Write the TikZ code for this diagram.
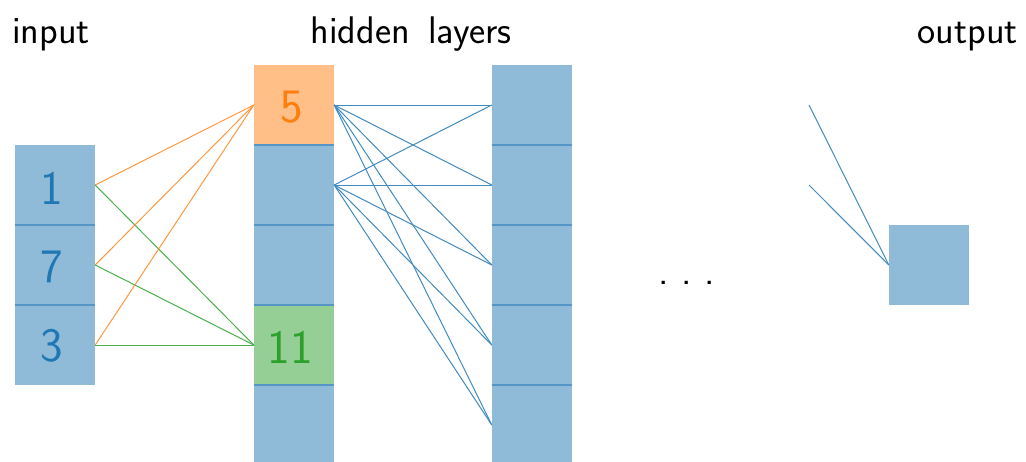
\documentclass[tikz,border=0pt]{standalone}
\usepackage{fontspec}
\definecolor{tblue}{HTML}{1F77B4}
\definecolor{torange}{HTML}{FF7F0E}
\definecolor{tgreen}{HTML}{2CA02C}
\definecolor{cellblue}{HTML}{8FBBD9}
\definecolor{cellorange}{HTML}{FFBF86}
\definecolor{cellgreen}{HTML}{95CF95}
\definecolor{sepblue}{HTML}{5596C6}
\begin{document}
\begin{tikzpicture}[x=1pt,y=-1pt,
  cell/.style={rectangle,minimum width=80pt,minimum height=80pt,inner sep=0pt,fill=cellblue},
  ocell/.style={cell,fill=cellorange},
  gcell/.style={cell,fill=cellgreen},
  num/.style={font=\sffamily\fontsize{48}{50}\selectfont,inner sep=0pt},
  sep/.style={draw=sepblue,line width=1.6pt},
  lbl/.style={font=\sffamily\fontsize{38.5}{40}\selectfont,inner sep=0pt,anchor=base},
  bw/.style={tblue!85,line width=1pt},
  ow/.style={torange!80,line width=1pt},
  gw/.style={tgreen!85,line width=1pt}]
\useasboundingbox (0,0) rectangle (1026,461);
\clip (0,0) rectangle (1026,461);
% input column
\node[cell] (i1) at (55,185) {};
\node[cell] (i2) at (55,265) {};
\node[cell] (i3) at (55,345) {};
\node[num,text=tblue] (n1) at (52,188) {1};
\node[num,text=tblue] (n7) at (52,267) {7};
\node[num,text=tblue] (n3) at (52,346) {3};
% hidden 1
\node[ocell] (a1) at (294,105) {};
\node[cell] (a2) at (294,185) {};
\node[cell] (a3) at (294,265) {};
\node[gcell] (a4) at (294,345) {};
\node[cell] (a5) at (294,425) {};
\node[num,text=torange] (n5) at (292,107) {5};
\node[num,text=tgreen] (n11) at (290,347) {11};
% hidden 2
\node[cell] (b1) at (532,105) {};
\node[cell] (b2) at (532,185) {};
\node[cell] (b3) at (532,265) {};
\node[cell] (b4) at (532,345) {};
\node[cell] (b5) at (532,425) {};
% output
\node[cell] (o1) at (929,265) {};
% separators
\foreach \c in {i1,i2,a1,a2,a3,a4,b1,b2,b3,b4}
  \draw[sep] (\c.south west) -- (\c.south east);
% input -> hidden1
\foreach \s in {i1,i2,i3} {
  \draw[ow] (\s.east) -- (a1.west);
  \draw[gw] (\s.east) -- (a4.west);
}
% hidden1 -> hidden2
\foreach \s in {a1,a2}
  \foreach \t in {b1,b2,b3,b4,b5}
    \draw[bw] (\s.east) -- (\t.west);
% -> output
\coordinate (p1) at (809,105);
\coordinate (p2) at (809,185);
\draw[bw] (p1) -- (o1.west);
\draw[bw] (p2) -- (o1.west);
% labels
\node[lbl] (l1) at (51,43) {input};
\node[lbl] (l2) at (411,43) {hidden\ \,layers};
\node[lbl,anchor=base east] (l3) at (1018,43) {output};
\node[lbl,font=\sffamily\fontsize{40}{42}\selectfont] (dots) at (687,284) {.\ .\ .};
\end{tikzpicture}
\end{document}
